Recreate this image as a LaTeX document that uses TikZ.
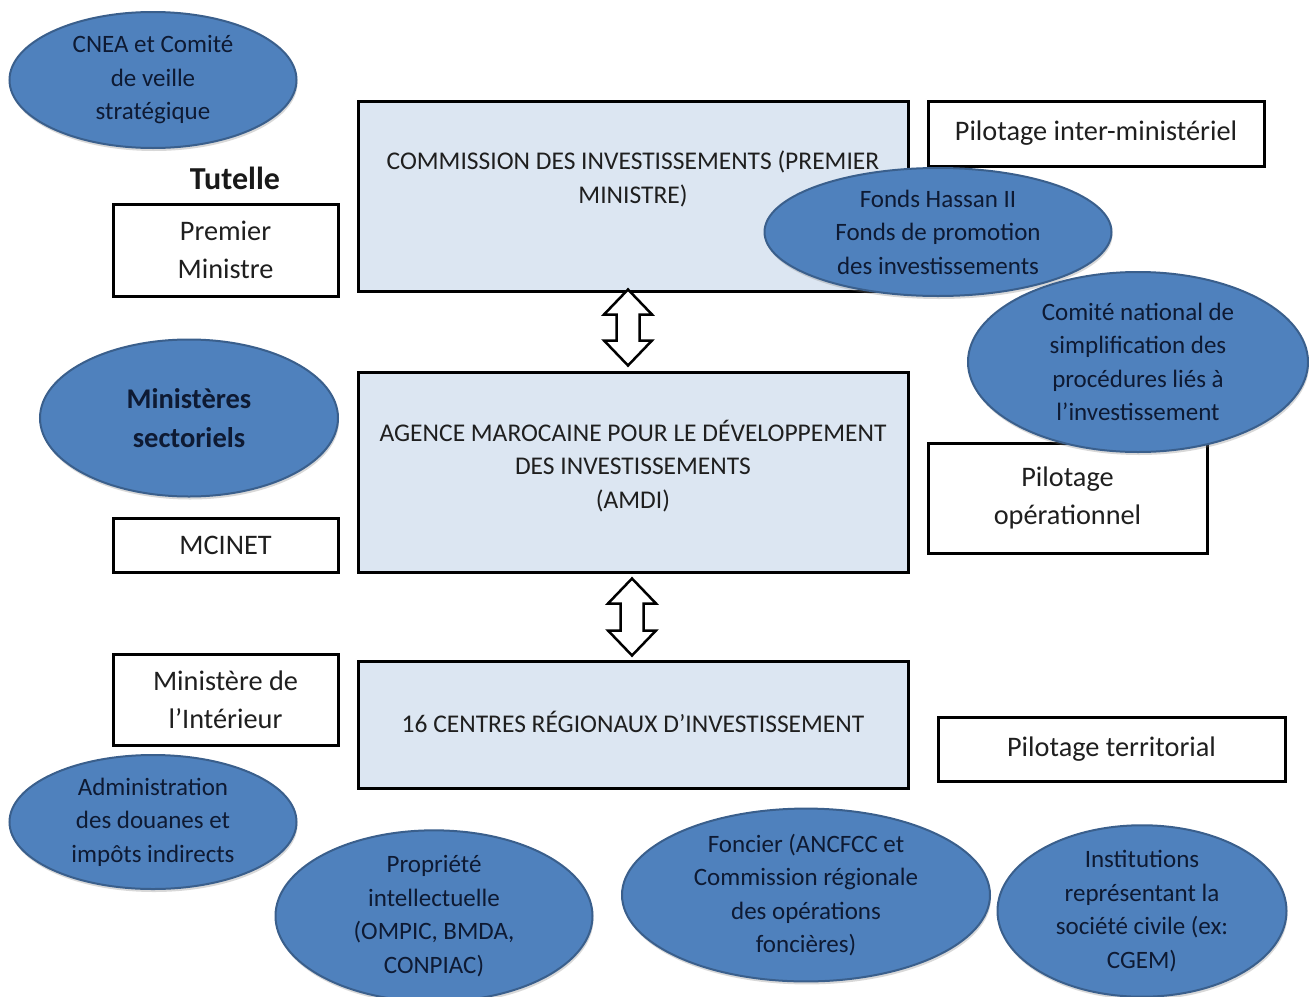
\documentclass[tikz,border=0pt]{standalone}
\usepackage{fontspec}
\setmainfont{Carlito}
\usetikzlibrary{shapes.geometric,shadows,calc}
\definecolor{ellfill}{HTML}{4F81BD}
\definecolor{elldraw}{HTML}{3A5F8C}
\definecolor{boxfill}{HTML}{DCE6F2}
\definecolor{elltext}{HTML}{0E1A33}
\begin{document}
\begin{tikzpicture}[x=1pt,y=-1pt,
 ell/.style={ellipse, fill=ellfill, draw=elldraw, line width=2pt, text=elltext, align=center, inner sep=0pt,
   font=\fontsize{25}{33.5}\selectfont, drop shadow={opacity=0.3, shadow xshift=1pt, shadow yshift=-3pt}},
 mainbox/.style={rectangle, fill=boxfill, draw=black, line width=3pt, inner sep=0pt},
 maintext/.style={align=center, inner sep=0pt, font=\fontsize{25.5}{33.5}\selectfont, text=black!88},
 sidebox/.style={rectangle, fill=white, draw=black, line width=3pt, align=center, inner sep=0pt,
   font=\fontsize{28.3}{38}\selectfont, text=black!88},
 harrow/.style={draw=black, fill=white, line width=2.5pt, line join=miter}
]
\useasboundingbox[fill=white] (0,0) rectangle (1309,996);

% central boxes
\node[mainbox, minimum width=550, minimum height=190] (com) at (633,196) {};
\node[maintext] (comt) at ($(com.center)+(0,-17)$) {COMMISSION DES INVESTISSEMENTS (PREMIER\\MINISTRE)};
\node[mainbox, minimum width=550, minimum height=200] (amdi) at (633,472) {};
\node[maintext] (amdit) at ($(amdi.center)+(0,-6)$) {AGENCE MAROCAINE POUR LE DÉVELOPPEMENT\\DES INVESTISSEMENTS\\(AMDI)};
\node[mainbox, minimum width=550, minimum height=127] (cri) at (633,725) {};
\node[maintext] (crit) at ($(cri.center)+(0,-3)$) {16 CENTRES RÉGIONAUX D’INVESTISSEMENT};

% side boxes
\node[sidebox, minimum width=225, minimum height=92] (pm) at (225.5,250) {Premier\\Ministre};
\node[sidebox, minimum width=225, minimum height=54] (mcinet) at (225.5,545) {MCINET};
\node[sidebox, minimum width=225, minimum height=91] (mi) at (225.5,699.5) {Ministère de\\l’Intérieur};
\node[sidebox, minimum width=336, minimum height=65] (pim) at (1096,133.5) {Pilotage inter-ministériel};
\node[sidebox, minimum width=279, minimum height=110] (pop) at (1067.5,498) {Pilotage\\opérationnel};
\node[sidebox, minimum width=347, minimum height=64] (pter) at (1111.5,749) {Pilotage territorial};

\node[font=\fontsize{32}{38}\bfseries\selectfont, text=black!90, inner sep=0pt] (tut) at (235,178) {Tutelle};

% double arrows
\coordinate (a1) at ($(com.south)+(-5,-3)$);
\coordinate (a2) at ($(amdi.south)+(-1,5)$);
\draw[harrow] (a1) -- ++(24,25) -- ++(-12.5,0) -- ++(0,26) -- ++(12.5,0) -- ++(-24,25)
  -- ++(-24,-25) -- ++(12.5,0) -- ++(0,-26) -- ++(-12.5,0) -- cycle;
\draw[harrow] (a2) -- ++(24,25) -- ++(-12.5,0) -- ++(0,27) -- ++(12.5,0) -- ++(-24,25)
  -- ++(-24,-25) -- ++(12.5,0) -- ++(0,-27) -- ++(-12.5,0) -- cycle;

% ellipses
\node[ell, minimum width=287, minimum height=136] (cnea) at (153,80) {CNEA et Comité\\de veille\\stratégique};
\node[ell, minimum width=347, minimum height=128] (fonds) at (938,232) {Fonds Hassan II\\Fonds de promotion\\des investissements};
\node[ell, minimum width=340, minimum height=180] (cns) at (1138,362) {Comité national de\\simplification des\\procédures liés à\\l’investissement};
\node[ell, minimum width=298, minimum height=157, font=\fontsize{28.5}{39}\bfseries\selectfont] (ms) at (189,418) {Ministères\\sectoriels};
\node[ell, minimum width=287, minimum height=134] (adii) at (153,822) {Administration\\des douanes et\\impôts indirects};
\node[ell, minimum width=317, minimum height=158] (pi) at (434,916) {Propriété\\intellectuelle\\(OMPIC, BMDA,\\CONPIAC)};
\node[ell, minimum width=368, minimum height=170] (fon) at (806,895) {Foncier (ANCFCC et\\Commission régionale\\des opérations\\foncières)};
\node[ell, minimum width=289, minimum height=158] (inst) at (1142,911) {Institutions\\représentant la\\société civile (ex:\\CGEM)};
\end{tikzpicture}
\end{document}
